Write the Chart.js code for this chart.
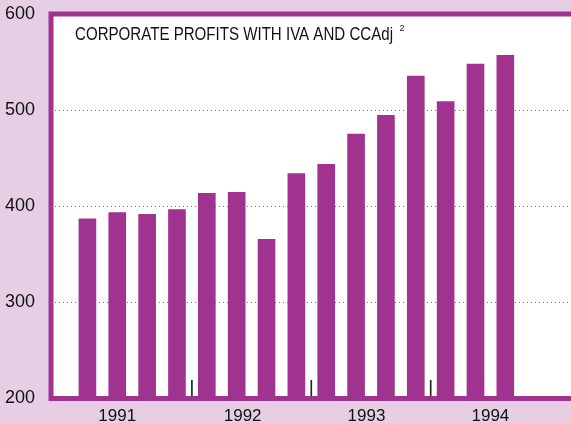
<!DOCTYPE html>
<html>
<head>
<meta charset="utf-8">
<script src="https://cdn.jsdelivr.net/npm/chart.js@4.4.1/dist/chart.umd.min.js"></script>
<style>
  html, body { margin: 0; padding: 0; background: #e6cfe4; }
  #wrap { width: 571px; height: 423px; position: relative; }
</style>
</head>
<body>
<div id="wrap"><canvas id="chart"></canvas></div>
<script>
// quarterly values, billions of dollars
const quarters = [
  "1991 Q1", "1991 Q2", "1991 Q3", "1991 Q4",
  "1992 Q1", "1992 Q2", "1992 Q3", "1992 Q4",
  "1993 Q1", "1993 Q2", "1993 Q3", "1993 Q4",
  "1994 Q1", "1994 Q2", "1994 Q3"
];
const profits = [387, 393.5, 391.5, 396.5, 413.5, 414.5, 365.5, 434, 443.5, 475, 494.5, 535.5, 509, 548, 557];
const years = ["1991", "1992", "1993", "1994"];
const yTicks = [200, 300, 400, 500, 600];
const chartTitle = "CORPORATE PROFITS WITH IVA AND CCAdj";
const titleNote = "2";

const PURPLE = "#a0338f";
const FONT = '"Liberation Sans", Arial, sans-serif';

// where the year labels sit on the quarter axis (the original is a bit irregular)
const yearLabelAt = [1.0, 5.2, 9.35, 13.5];

// white plot area + purple frame
const framePlugin = {
  id: "frame",
  beforeDraw(chart) {
    const { ctx, chartArea: a } = chart;
    ctx.save();
    ctx.fillStyle = "#ffffff";
    ctx.fillRect(a.left, a.top, a.right - a.left, a.bottom - a.top);
    ctx.restore();
  },
  afterDatasetsDraw(chart) {
    const { ctx, chartArea: a } = chart;
    ctx.save();
    ctx.strokeStyle = PURPLE;
    ctx.lineWidth = 5;
    ctx.beginPath();
    ctx.moveTo(chart.width, a.top);
    ctx.lineTo(a.left, a.top);
    ctx.lineTo(a.left, a.bottom);
    ctx.lineTo(chart.width, a.bottom);
    ctx.stroke();
    ctx.restore();
  }
};

// chart title inside the plot, narrow face
const titlePlugin = {
  id: "insideTitle",
  afterDraw(chart) {
    const { ctx } = chart;
    ctx.save();
    ctx.fillStyle = "#111";
    ctx.textBaseline = "alphabetic";
    ctx.font = '18px "Liberation Sans Narrow", ' + FONT;
    const w = ctx.measureText(chartTitle).width;
    const target = 318;
    ctx.translate(75, 39.5);
    ctx.scale(target / w, 1);
    ctx.fillText(chartTitle, 0, 0);
    ctx.restore();

    ctx.save();
    ctx.fillStyle = "#111";
    ctx.font = "9px " + FONT;
    ctx.fillText(titleNote, 399.5, 31);
    ctx.restore();
  }
};

document.addEventListener("DOMContentLoaded", function () {
  const el = document.getElementById("chart");

  const bars = profits.map((v, i) => ({ x: i, y: v }));
  // small year separators at the bottom of the plot
  const seps = years.slice(0, -1).map((y, i) => ({ x: (i + 1) * 4 - 0.5, y: [200, 219] }));

  new Chart(el, {
    type: "bar",
    data: {
      datasets: [
        {
          label: "Corporate profits",
          data: bars,
          backgroundColor: PURPLE,
          barThickness: 17,
          borderWidth: 0,
          grouped: false
        },
        {
          label: "sep",
          data: seps,
          backgroundColor: "#222",
          barThickness: 1,
          borderWidth: 0,
          grouped: false
        }
      ]
    },
    options: {
      responsive: true,
      maintainAspectRatio: false,
      animation: false,
      layout: { padding: { top: 14, right: 0, left: 0, bottom: 0 } },
      plugins: {
        legend: { display: false },
        tooltip: { enabled: false },
        title: { display: false }
      },
      scales: {
        x: {
          type: "linear",
          offset: false,
          min: -1.22,
          max: 16.2,
          grid: { display: false },
          border: { display: false },
          afterBuildTicks(scale) {
            scale.ticks = yearLabelAt.map((v) => ({ value: v }));
          },
          afterFit(scale) {
            scale.height = 24.5;
            scale.paddingLeft = 0;
            scale.paddingRight = 0;
          },
          ticks: {
            autoSkip: false,
            maxRotation: 0,
            padding: 0,
            color: "#111",
            font: { family: FONT, size: 17 },
            callback: (v, i) => years[i]
          }
        },
        y: {
          min: 200,
          max: 600,
          afterBuildTicks(scale) {
            scale.ticks = yTicks.map((v) => ({ value: v }));
          },
          afterFit(scale) {
            scale.width = 51;
            scale.paddingTop = 0;
            scale.paddingBottom = 0;
          },
          grid: { color: "#7a7a7a", lineWidth: 1, drawTicks: false },
          border: { display: false, dash: [1, 3] },
          ticks: {
            padding: 16,
            color: "#111",
            font: { family: FONT, size: 18 }
          }
        }
      }
    },
    plugins: [framePlugin, titlePlugin]
  });
});
</script>
</body>
</html>
